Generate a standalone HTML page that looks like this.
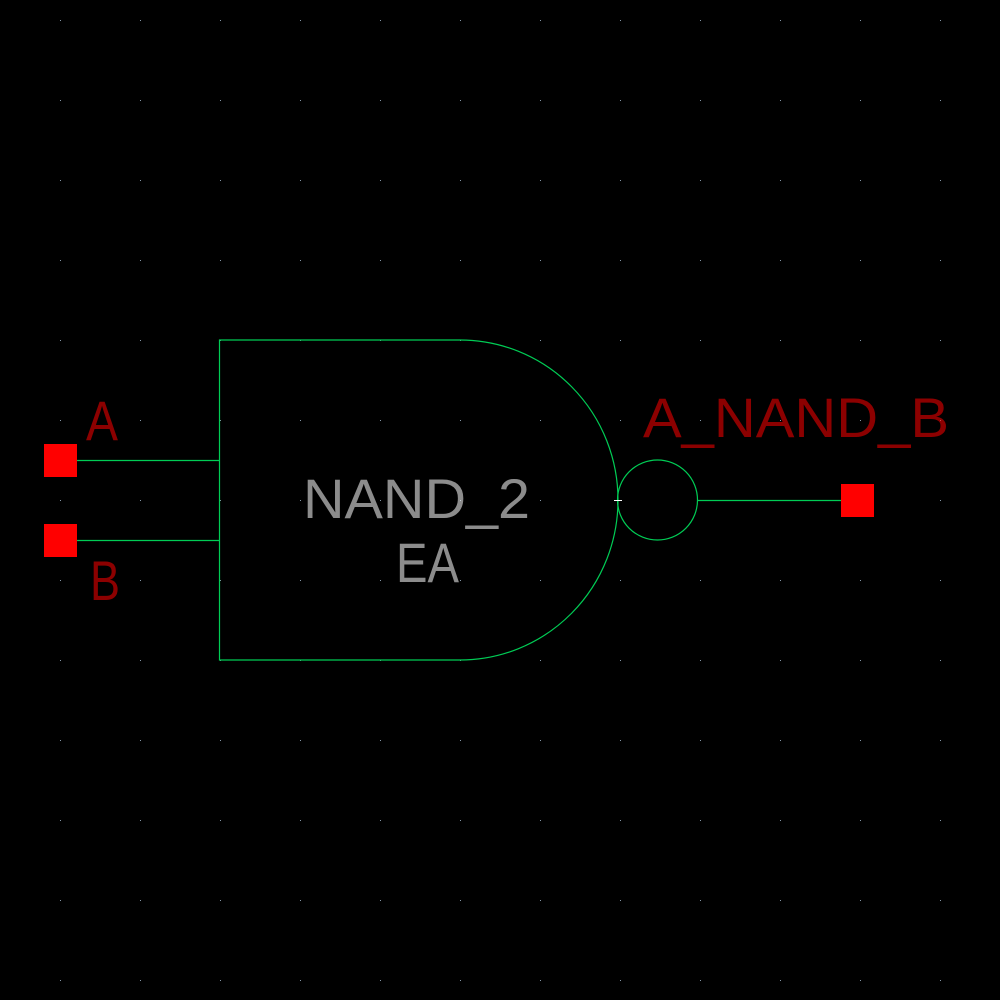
<!DOCTYPE html>
<html><head><style>html,body{margin:0;padding:0;background:#000;width:1000px;height:1000px;overflow:hidden}</style></head>
<body>
<svg width="1000" height="1000" viewBox="0 0 1000 1000" xmlns="http://www.w3.org/2000/svg">
<defs>
<pattern id="g" x="0" y="0" width="80" height="80" patternUnits="userSpaceOnUse">
<rect x="60" y="20" width="1" height="1" fill="#8899aa"/>
</pattern>
</defs>
<rect width="1000" height="1000" fill="#000"/>
<rect width="1000" height="1000" fill="url(#g)"/>
<g fill="none" stroke="#00cc55" stroke-width="1.2">
<path d="M460 340 H219.5 V660 H460 A158 160 0 0 0 618 500 A158 160 0 0 0 460 340"/>
<line x1="77" y1="460.5" x2="219" y2="460.5"/>
<line x1="77" y1="540.5" x2="219" y2="540.5"/>
<circle cx="657.5" cy="500" r="40"/>
<line x1="697" y1="500.5" x2="841" y2="500.5"/>
</g>
<line x1="614" y1="500.5" x2="622" y2="500.5" stroke="#fff" stroke-width="1"/>
<rect x="44" y="444" width="33" height="33" fill="#ff0000"/>
<rect x="44" y="524" width="33" height="33" fill="#ff0000"/>
<rect x="841" y="484" width="33" height="33" fill="#ff0000"/>
<g font-family="Liberation Sans, sans-serif" font-size="56" font-weight="normal" fill-opacity="0.55">
<text x="86" y="440" fill="#ff0000" textLength="32" lengthAdjust="spacingAndGlyphs">A</text>
<text x="90" y="600" fill="#ff0000" textLength="30" lengthAdjust="spacingAndGlyphs">B</text>
<text x="643" y="437" fill="#ff0000" textLength="306" lengthAdjust="spacingAndGlyphs">A_NAND_B</text>
<text x="303" y="518" fill="#ffffff" textLength="227" lengthAdjust="spacingAndGlyphs">NAND_2</text>
<text x="396" y="582" fill="#ffffff" textLength="63" lengthAdjust="spacingAndGlyphs">EA</text>
</g>
</svg>
</body></html>
